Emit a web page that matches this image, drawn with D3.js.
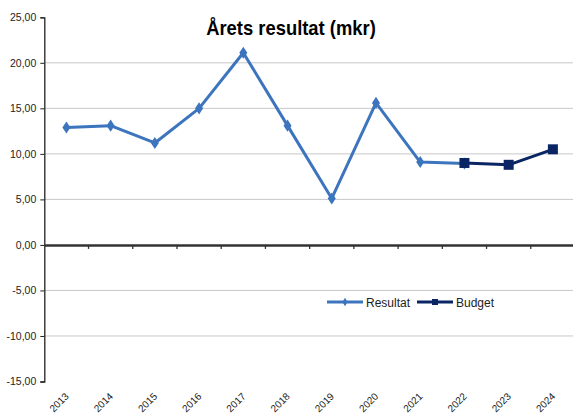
<!DOCTYPE html>
<html>
<head>
<meta charset="utf-8">
<script src="https://cdn.jsdelivr.net/npm/d3@7/dist/d3.min.js"></script>
<style>
  body { margin: 0; background: #fff; }
  svg { display: block; font-family: "Liberation Sans", Arial, sans-serif; }
</style>
</head>
<body>
<svg id="chart" width="573" height="413"></svg>
<script>
// data
var years = [ '2013', '2014', '2015', '2016', '2017', '2018', '2019', '2020', '2021', '2022', '2023', '2024' ];
var resultat = [ 12.9, 13.1, 11.2, 15.0, 21.1, 13.1, 5.1, 15.6, 9.1, 8.95, null, null ];
var budget = [ null, null, null, null, null, null, null, null, null, 9.0, 8.8, 10.5 ];
var yTicks = [ -15, -10, -5, 0, 5, 10, 15, 20, 25 ];

var svg = d3.select( '#chart' );
var plotLeft = 44.3, plotRight = 575, plotTop = 17.3, plotBottom = 381.5;

var x = d3.scaleBand().domain( years ).range( [ plotLeft, plotRight ] );
var y = d3.scaleLinear().domain( [ -15, 25 ] ).range( [ plotBottom, plotTop ] );
var fmt = function( v ) { return d3.format( '.2f' )( v ).replace( '.', ',' ).replace( '−', '-' ); };
var cx = function( d, i ) { return x( years[ i ] ) + x.bandwidth() / 2; };

// gridlines
svg.append( 'g' ).selectAll( 'line' )
	.data( yTicks.filter( function( t ) { return t > -15 && t < 25 && t !== 0; } ) )
	.enter().append( 'line' )
		.attr( 'x1', plotLeft ).attr( 'x2', plotRight )
		.attr( 'y1', y ).attr( 'y2', y )
		.attr( 'stroke', '#c8c8c8' ).attr( 'stroke-width', 1 );

// y axis
var yAxis = svg.append( 'g' )
	.attr( 'transform', 'translate(' + plotLeft + ',0)' )
	.call( d3.axisLeft( y ).tickValues( yTicks ).tickFormat( fmt ).tickSize( 4 ).tickPadding( 4 ) );
yAxis.select( '.domain' ).attr( 'stroke', '#222' ).attr( 'stroke-width', 1.3 );
yAxis.selectAll( '.tick line' ).attr( 'stroke', '#222' );
yAxis.selectAll( 'text' ).attr( 'font-size', 10.5 ).attr( 'fill', '#222' );

// x axis on zero
var xAxis = svg.append( 'g' )
	.attr( 'transform', 'translate(0,' + y( 0 ) + ')' )
	.call( d3.axisBottom( x ).tickSize( 0 ).tickFormat( '' ) );
xAxis.select( '.domain' ).attr( 'stroke', '#333' ).attr( 'stroke-width', 2.5 );
xAxis.append( 'g' ).selectAll( 'line' )
	.data( years.slice( 1 ) )
	.enter().append( 'line' )
		.attr( 'x1', function( d ) { return x( d ); } )
		.attr( 'x2', function( d ) { return x( d ); } )
		.attr( 'y1', 0 ).attr( 'y2', 4 )
		.attr( 'stroke', '#333' ).attr( 'stroke-width', 1.3 );

// category labels at the bottom
svg.append( 'g' ).selectAll( 'text' )
	.data( years )
	.enter().append( 'text' )
		.text( function( d ) { return d; } )
		.attr( 'font-size', 10 )
		.attr( 'fill', '#222' )
		.attr( 'text-anchor', 'end' )
		.attr( 'transform', function( d ) {
			return 'translate(' + ( x( d ) + x.bandwidth() / 2 + 3 ) + ',397) rotate(-45)';
		} );

// series
var line = d3.line()
	.defined( function( d ) { return d !== null; } )
	.x( cx )
	.y( function( d ) { return y( d ); } );

var colRes = '#3c74bd', colBud = '#0a2563';

svg.append( 'path' ).datum( resultat )
	.attr( 'd', line ).attr( 'fill', 'none' )
	.attr( 'stroke', colRes ).attr( 'stroke-width', 3 ).attr( 'stroke-linejoin', 'round' );

svg.append( 'g' ).selectAll( 'path' )
	.data( resultat.map( function( v, i ) { return { v: v, i: i }; } ).filter( function( d ) { return d.v !== null; } ) )
	.enter().append( 'path' )
		.attr( 'd', d3.symbol( d3.symbolDiamond, 42 ) )
		.attr( 'fill', colRes )
		.attr( 'transform', function( d ) {
			return 'translate(' + cx( d.v, d.i ) + ',' + y( d.v ) + ') scale(1.15,1)';
		} );

svg.append( 'path' ).datum( budget )
	.attr( 'd', line ).attr( 'fill', 'none' )
	.attr( 'stroke', colBud ).attr( 'stroke-width', 3 ).attr( 'stroke-linejoin', 'round' );

svg.append( 'g' ).selectAll( 'rect' )
	.data( budget.map( function( v, i ) { return { v: v, i: i }; } ).filter( function( d ) { return d.v !== null; } ) )
	.enter().append( 'rect' )
		.attr( 'x', function( d ) { return cx( d.v, d.i ) - 5; } )
		.attr( 'y', function( d ) { return y( d.v ) - 5; } )
		.attr( 'width', 10 ).attr( 'height', 10 )
		.attr( 'fill', colBud );

// title (condensed a little, like the original's narrow bold face)
svg.append( 'text' )
	.text( 'Årets resultat (mkr)' )
	.attr( 'transform', 'translate(291,35) scale(0.92,1)' )
	.attr( 'text-anchor', 'middle' )
	.attr( 'font-size', 20 ).attr( 'font-weight', 'bold' )
	.attr( 'fill', '#000' );

// legend
var legend = svg.append( 'g' ).attr( 'transform', 'translate(0,302)' );
var items = [ { name: 'Resultat', col: colRes, x: 327 }, { name: 'Budget', col: colBud, x: 417 } ];
items.forEach( function( it, k ) {
	legend.append( 'line' )
		.attr( 'x1', it.x ).attr( 'x2', it.x + 36 )
		.attr( 'stroke', it.col ).attr( 'stroke-width', 3 );
	if ( k === 0 ) {
		legend.append( 'path' ).attr( 'd', d3.symbol( d3.symbolDiamond, 22 ) )
			.attr( 'fill', it.col ).attr( 'transform', 'translate(' + ( it.x + 18 ) + ',0)' );
	} else {
		legend.append( 'rect' ).attr( 'x', it.x + 15 ).attr( 'y', -3 )
			.attr( 'width', 6 ).attr( 'height', 6 ).attr( 'fill', it.col );
	}
	legend.append( 'text' )
		.text( it.name )
		.attr( 'x', it.x + 39 ).attr( 'y', 4.5 )
		.attr( 'font-size', 12 ).attr( 'fill', '#222' );
} );
</script>
</body>
</html>
